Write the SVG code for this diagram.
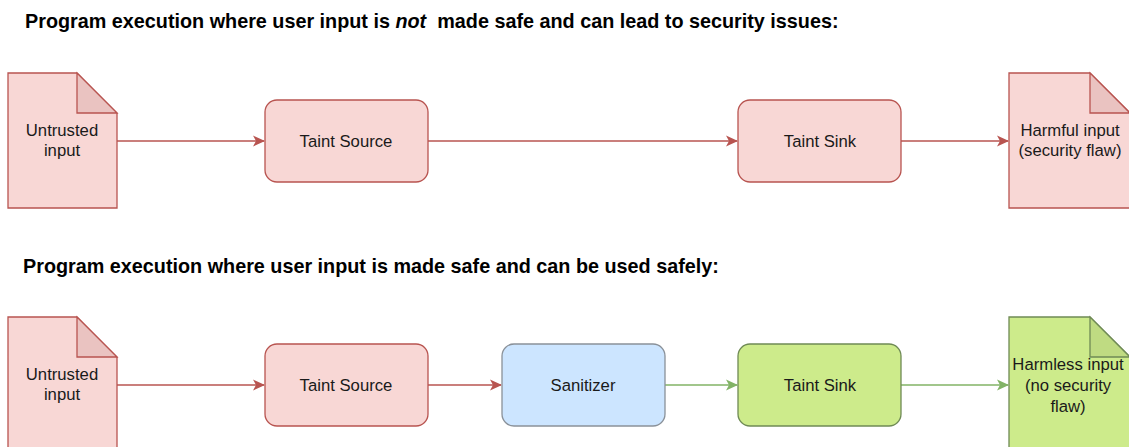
<svg xmlns="http://www.w3.org/2000/svg" width="1129" height="447" viewBox="0 0 1129 447">
  <defs>
    <marker id="arrRed" viewBox="0 0 12 12" refX="11" refY="6" markerWidth="12" markerHeight="12" markerUnits="userSpaceOnUse" orient="auto">
      <path d="M0,0.5 L12,6 L0,11.5 L3,6 Z" fill="#b85450"/>
    </marker>
    <marker id="arrGreen" viewBox="0 0 12 12" refX="11" refY="6" markerWidth="12" markerHeight="12" markerUnits="userSpaceOnUse" orient="auto">
      <path d="M0,0.5 L12,6 L0,11.5 L3,6 Z" fill="#82b366"/>
    </marker>
    <style>
      .title { font-family: "Liberation Sans", Arial, sans-serif; font-size: 19.8px; font-weight: bold; fill: #000; }
      .lbl { font-family: "Liberation Sans", Arial, sans-serif; font-size: 16.7px; fill: #1a1a1a; text-anchor: middle; }
      .red { fill: #f8d7d5; stroke: #b85450; stroke-width: 1.3; }
      .redFold { fill: #eac3c1; stroke: #b85450; stroke-width: 1.3; }
      .blue { fill: #cce5ff; stroke: #8a9199; stroke-width: 1.3; }
      .green { fill: #cdeb8b; stroke: #6f8a55; stroke-width: 1.3; }
      .greenFold { fill: #bfdb82; stroke: #6f8a55; stroke-width: 1.3; }
      .eRed { stroke: #b85450; stroke-width: 1.3; fill: none; marker-end: url(#arrRed); }
      .eGreen { stroke: #82b366; stroke-width: 1.3; fill: none; marker-end: url(#arrGreen); }
    </style>
  </defs>

  <text class="title" x="25" y="28">Program execution where user input is <tspan font-style="italic">not</tspan>&#160; made safe and can lead to security issues:</text>
  <text class="title" x="23" y="273">Program execution where user input is made safe and can be used safely:</text>

  <!-- connectors -->
  <g id="connectors">
    <path class="eRed" d="M117,141 H264"/>
    <path class="eRed" d="M428,141 H737"/>
    <path class="eRed" d="M901,141 H1008"/>
    <path class="eRed" d="M117,385 H264"/>
    <path class="eRed" d="M428,385 H501"/>
    <path class="eGreen" d="M665,385 H737"/>
    <path class="eGreen" d="M901,385 H1008"/>
  </g>

  <!-- top row -->
  <g id="untrusted1">
    <path class="red" d="M8,73 H77 L117,113 V208 H8 Z"/>
    <path class="redFold" d="M77,73 V113 H117 Z"/>
    <text class="lbl" x="62" y="136">Untrusted</text>
    <text class="lbl" x="62" y="156">input</text>
  </g>
  <g id="source1">
    <rect class="red" x="265" y="100" width="163" height="82" rx="12"/>
    <text class="lbl" x="346" y="147">Taint Source</text>
  </g>
  <g id="sink1">
    <rect class="red" x="738" y="100" width="163" height="82" rx="12"/>
    <text class="lbl" x="820" y="147">Taint Sink</text>
  </g>
  <g id="harmful">
    <path class="red" d="M1009,73 H1090 L1130,113 V208 H1009 Z"/>
    <path class="redFold" d="M1090,73 V113 H1130 Z"/>
    <text class="lbl" x="1070" y="136">Harmful input</text>
    <text class="lbl" x="1070" y="156">(security flaw)</text>
  </g>

  <!-- bottom row -->
  <g id="untrusted2">
    <path class="red" d="M8,317 H77 L117,357 V452 H8 Z"/>
    <path class="redFold" d="M77,317 V357 H117 Z"/>
    <text class="lbl" x="62" y="380">Untrusted</text>
    <text class="lbl" x="62" y="400">input</text>
  </g>
  <g id="source2">
    <rect class="red" x="265" y="344" width="163" height="82" rx="12"/>
    <text class="lbl" x="346" y="391">Taint Source</text>
  </g>
  <g id="sanitizer">
    <rect class="blue" x="502" y="344" width="163" height="82" rx="12"/>
    <text class="lbl" x="583" y="391">Sanitizer</text>
  </g>
  <g id="sink2">
    <rect class="green" x="738" y="344" width="163" height="82" rx="12"/>
    <text class="lbl" x="820" y="391">Taint Sink</text>
  </g>
  <g id="harmless">
    <path class="green" d="M1009,317 H1090 L1130,357 V452 H1009 Z"/>
    <path class="greenFold" d="M1090,317 V357 H1130 Z"/>
    <text class="lbl" x="1068" y="370">Harmless input</text>
    <text class="lbl" x="1068" y="391">(no security</text>
    <text class="lbl" x="1068" y="412">flaw)</text>
  </g>
</svg>
